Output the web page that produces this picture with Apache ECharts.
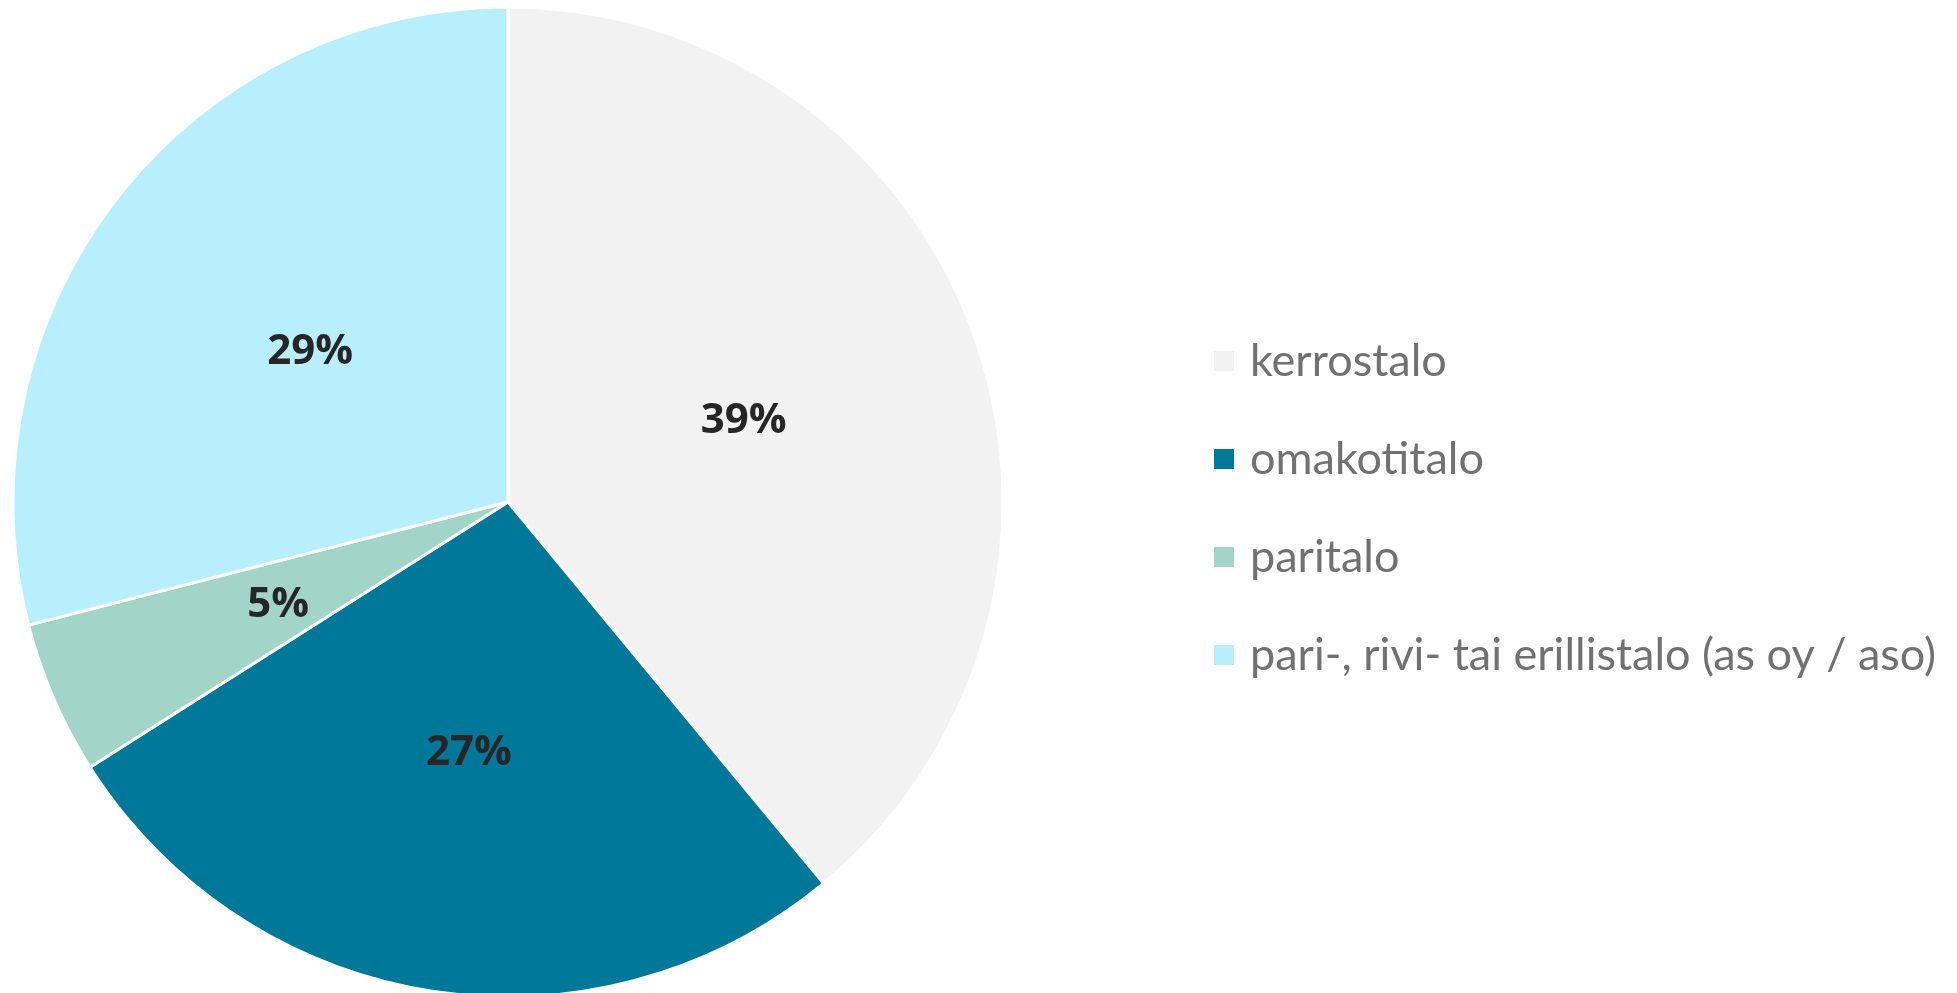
<!DOCTYPE html>
<html>
<head>
<meta charset="utf-8">
<script src="https://cdn.jsdelivr.net/npm/echarts@6/dist/echarts.min.js"></script>
<style>
  html, body { margin: 0; padding: 0; background: #fff; }
  #chart { width: 1957px; height: 993px; }
</style>
</head>
<body>
<div id="chart"></div>
<script>
// Data
const categories = [
  "kerrostalo",
  "omakotitalo",
  "paritalo",
  "pari-, rivi- tai erillistalo (as oy / aso)",
];
const shares = [39, 27, 5, 29];
const colors = ["#F2F2F2", "#00789A", "#A2D5C8", "#B8EFFE"];

const chart = echarts.init(document.getElementById("chart"));

const option = {
  animation: false,
  color: colors,
  legend: {
    orient: "vertical",
    left: 1212,
    top: 338,
    padding: 0,
    icon: "rect",
    itemWidth: 22,
    itemHeight: 22,
    itemGap: 52,
    data: categories,
    textStyle: {
      fontFamily: "Lato",
      fontSize: 45,
      lineHeight: 46,
      color: "#717171",
      padding: [0, 0, 0, 10],
    },
  },
  series: [
    {
      type: "pie",
      center: [508, 502],
      radius: 495,
      startAngle: 90,
      clockwise: true,
      data: categories.map((name, i) => ({ name, value: shares[i] })),
      itemStyle: {
        borderColor: "#fff",
        borderWidth: 3,
      },
      label: {
        show: true,
        position: "inside",
        formatter: (p) => p.value + "%",
        fontFamily: "Open Sans",
        fontWeight: "bold",
        fontSize: 42,
        color: "#262626",
      },
      labelLayout: { dy: 4 },
      labelLine: { show: false },
      emphasis: { disabled: true },
    },
  ],
};

chart.setOption(option);
</script>
</body>
</html>
